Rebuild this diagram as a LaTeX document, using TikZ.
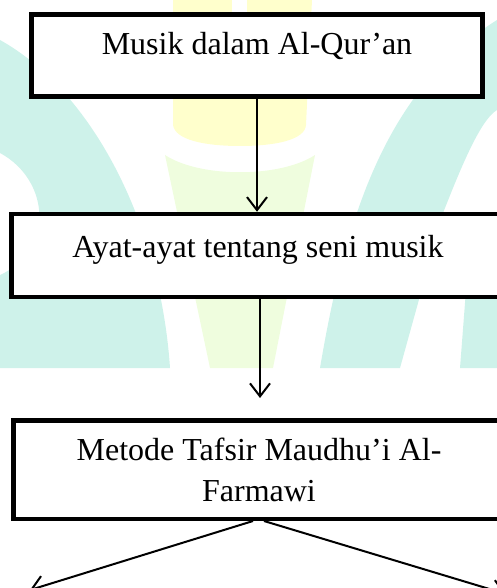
\documentclass[tikz,border=0pt]{standalone}
\usepackage{fontspec}
\setmainfont{Liberation Serif}
\usetikzlibrary{arrows.meta}
\definecolor{tosca}{RGB}{206,242,234}
\definecolor{kuning}{RGB}{255,255,204}
\definecolor{hijau}{RGB}{239,253,222}

\begin{document}
\begin{tikzpicture}[x=1pt, y=-1pt,
    kotak/.style={draw, fill=white, line width=4.5pt, inner sep=0pt, font=\fontsize{32}{41}\selectfont},
    panah/.style={line width=2pt, -{Straight Barb[length=13pt, width=20pt]}}]
  \useasboundingbox (0,0) rectangle (497,588);

  % Latar
  \fill[tosca] (0,40) .. controls (90,90) and (160,220) .. (170,368) -- (0,368) -- (0,275)
    .. controls (55,250) and (50,180) .. (0,153) -- cycle;
  \fill[tosca] (320,368) .. controls (345,220) and (385,90) .. (497,20) -- (497,110)
    .. controls (480,120) and (460,170) .. (443,213) -- (400,368) -- cycle;
  \fill[tosca] (460,368) -- (466,290) -- (497,290) -- (497,368) -- cycle;
  \fill[kuning] (173,0) -- (173,125) .. controls (175,140) and (205,146) .. (240,146)
    .. controls (275,146) and (305,140) .. (306,125) -- (312,0) -- cycle;
  \fill[white] (232,0) rectangle (247,30);
  \fill[hijau] (165,155) .. controls (200,178) and (280,178) .. (315,155) -- (273,368) -- (210,368) -- cycle;

  % Kotak
  \node[kotak, minimum width=451pt, text height=40.5pt, text depth=41.5pt] (musik) at (257,55.5) {Musik dalam Al-Qur’an};
  \node[kotak, minimum width=493.5pt, text height=43pt, text depth=40pt] (ayat) at (258,255.5) {Ayat-ayat tentang seni musik};
  \node[kotak, minimum width=491.5pt, minimum height=98.5pt, align=center] (metode) at (259,469.5) {Metode Tafsir Maudhu’i Al-\\Farmawi};
  \coordinate (kiri) at (30,590);
  \coordinate (kanan) at (506,594);

  % Panah
  \draw[panah] (musik.south) -- (musik.south |- ayat.north);
  \draw[panah, shorten >=20pt] ([xshift=2pt]ayat.south) -- ([xshift=2pt]ayat.south |- metode.north);
  \draw[panah] ([xshift=-6pt]metode.south) -- (kiri);
  \draw[panah] ([xshift=5pt]metode.south) -- (kanan);
\end{tikzpicture}
\end{document}
